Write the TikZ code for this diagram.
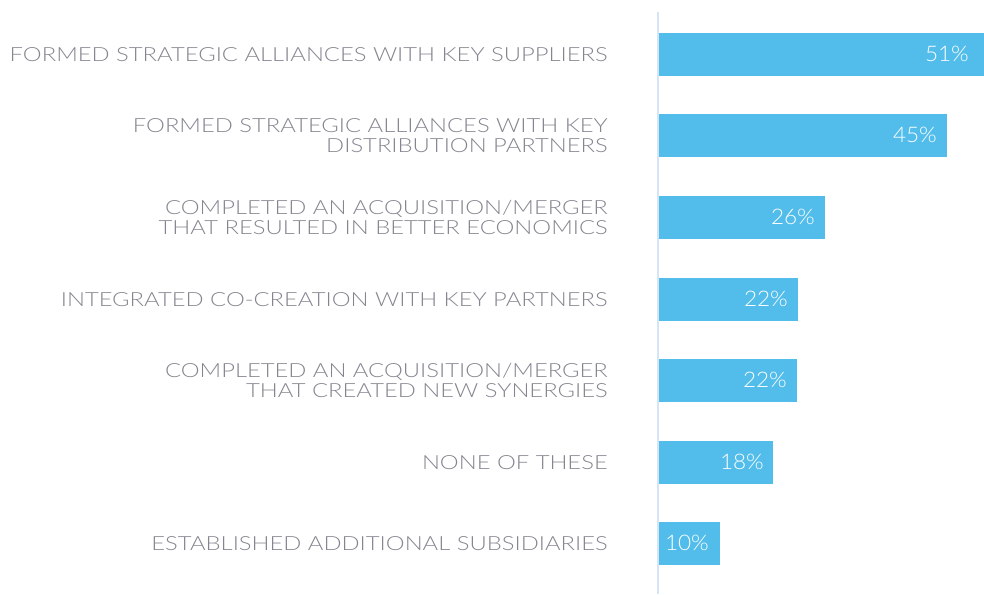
\documentclass[tikz,border=0pt]{standalone}
\usepackage{fontspec}
\setmainfont{Lato Light}
\newfontfamily\lblfont[FakeStretch=1.22]{Lato Light}
\newfontfamily\pctfont[FakeStretch=1.05]{Lato Light}
\definecolor{barblue}{HTML}{52BDEB}
\definecolor{labelgray}{HTML}{858590}
\definecolor{axisblue}{HTML}{D5E5F5}
\begin{document}
\begin{tikzpicture}[x=1pt,y=-1pt,
  bar/.style={fill=barblue,draw=none},
  lbl/.style={anchor=east,align=right,text=labelgray,inner sep=0pt,font=\lblfont\fontsize{19.5}{20.5}\selectfont},
  pct/.style={anchor=east,text=white,inner sep=0pt,font=\pctfont\fontsize{21.5}{21.5}\selectfont}]
\useasboundingbox (0,0) rectangle (984,594);
\fill[white] (0,0) rectangle (984,594);
\draw[axisblue,line width=2.5pt] (658,12) coordinate (axtop) -- (658,594) coordinate (axbot);
\foreach \i/\top/\right/\off/\p/\txt in {
  1/33/984/15/51\%/{FORMED STRATEGIC ALLIANCES WITH KEY SUPPLIERS},
  2/114/947/10/45\%/{FORMED STRATEGIC ALLIANCES WITH KEY\\DISTRIBUTION PARTNERS},
  3/196/825/10/26\%/{COMPLETED AN ACQUISITION/MERGER\\THAT RESULTED IN BETTER ECONOMICS},
  4/278/798/10/22\%/{INTEGRATED CO-CREATION WITH KEY PARTNERS},
  5/359/797/10/22\%/{COMPLETED AN ACQUISITION/MERGER\\THAT CREATED NEW SYNERGIES},
  6/441/773/9/18\%/{NONE OF THESE},
  7/522/720/11/10\%/{ESTABLISHED ADDITIONAL SUBSIDIARIES}} {
  \fill[bar] (659,\top) rectangle (\right,\top+43);
  \node[pct] (p\i) at (\right-\off,\top+21) {\p};
  \node[lbl] (l\i) at (608,\top+21.5) {\txt};
}
\end{tikzpicture}
\end{document}
